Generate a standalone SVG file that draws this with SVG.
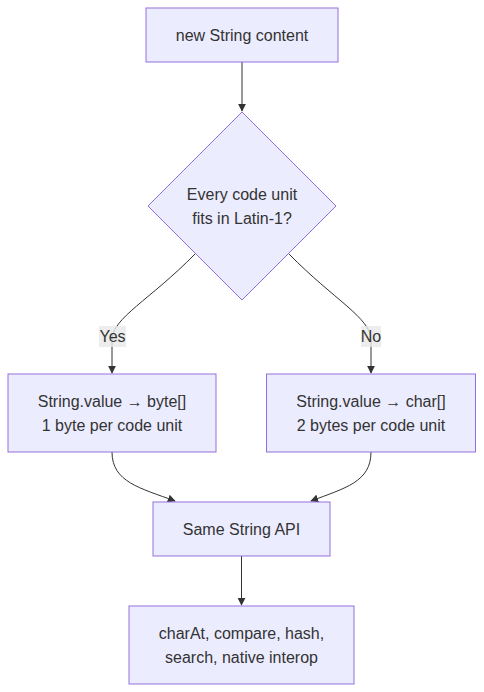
<svg xmlns="http://www.w3.org/2000/svg" width="484" height="692" viewBox="0 0 484 692">
<style>
.node rect,.node polygon{fill:#ECECFF;stroke:#9370DB;stroke-width:1}
text{font-family:"Liberation Sans",Arial,sans-serif;font-size:16px;fill:#333;text-anchor:middle;dominant-baseline:central}
.edge{fill:none;stroke:#333;stroke-width:1}
.lbl{fill:#e8e8e8;fill-opacity:0.8}
</style>
<defs>
<marker id="arr" viewBox="0 0 10 10" refX="9" refY="5" markerWidth="8" markerHeight="8" markerUnits="userSpaceOnUse" orient="auto">
<path d="M0,0 L10,5 L0,10 z" fill="#333"/>
</marker>
</defs>
<rect width="484" height="692" fill="#fff"/>
<g id="connectors">
<path class="edge" d="M242,62 L242,111" marker-end="url(#arr)"/>
<path class="edge" d="M195,254 C150,300 112,318 112,340 L112,373" marker-end="url(#arr)"/>
<path class="edge" d="M289,254 C334,300 371,318 371,340 L371,373" marker-end="url(#arr)"/>
<path class="edge" d="M112,452 C112,482 140,488 175,501" marker-end="url(#arr)"/>
<path class="edge" d="M371,452 C371,482 345,488 311,501" marker-end="url(#arr)"/>
<path class="edge" d="M241.5,556 L241.5,605" marker-end="url(#arr)"/>
<rect class="lbl" x="99" y="326" width="27" height="21"/>
<text x="112.5" y="336.5">Yes</text>
<rect class="lbl" x="361" y="326" width="20" height="21"/>
<text x="371" y="336.5">No</text>
</g>
<g id="n1" class="node">
<rect x="146" y="8" width="192" height="54"/>
<text x="242" y="35">new String content</text>
</g>
<g id="n2" class="node">
<polygon points="242,112 336,206 242,300 148,206"/>
<text x="242" y="194">Every code unit</text>
<text x="242" y="218">fits in Latin-1?</text>
</g>
<g id="n3" class="node">
<rect x="8" y="374" width="208" height="78"/>
<text x="112" y="401">String.value → byte[]</text>
<text x="112" y="425">1 byte per code unit</text>
</g>
<g id="n4" class="node">
<rect x="266.5" y="374" width="209" height="78"/>
<text x="371" y="401">String.value → char[]</text>
<text x="371" y="425">2 bytes per code unit</text>
</g>
<g id="n5" class="node">
<rect x="153" y="502" width="177" height="54"/>
<text x="241.5" y="529">Same String API</text>
</g>
<g id="n6" class="node">
<rect x="129" y="606" width="225" height="78"/>
<text x="241.5" y="633">charAt, compare, hash,</text>
<text x="241.5" y="657">search, native interop</text>
</g>
</svg>
